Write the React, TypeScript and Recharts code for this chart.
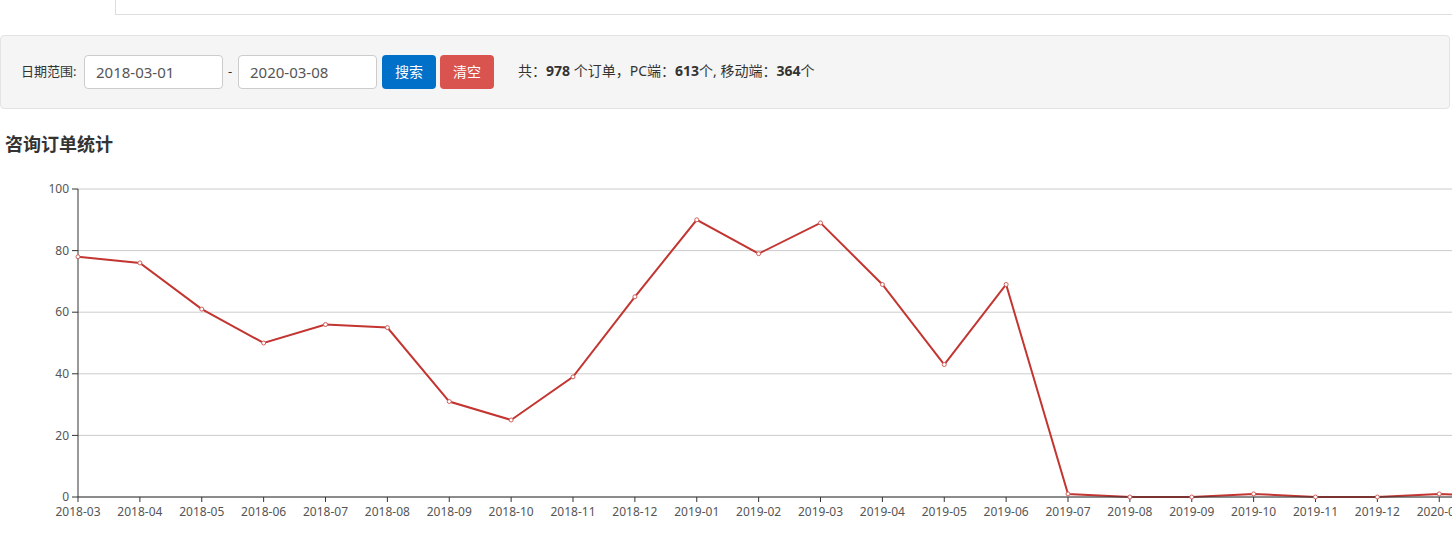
import React from "react";
import { LineChart, Line, XAxis, YAxis, CartesianGrid } from "recharts";

const months = [
  "2018-03", "2018-04", "2018-05", "2018-06", "2018-07", "2018-08", "2018-09",
  "2018-10", "2018-11", "2018-12", "2019-01", "2019-02", "2019-03", "2019-04",
  "2019-05", "2019-06", "2019-07", "2019-08", "2019-09", "2019-10", "2019-11",
  "2019-12", "2020-01", "2020-02", "2020-03",
];
const orders = [78, 76, 61, 50, 56, 55, 31, 25, 39, 65, 90, 79, 89, 69, 43, 69, 1, 0, 0, 1, 0, 0, 1, 0, 0];
const yTicks = [0, 20, 40, 60, 80, 100];

const startDate = "2018-03-01";
const endDate = "2020-03-08";
const totalOrders = 978;
const pcOrders = 613;
const mobileOrders = 364;

const data = months.map((m, i) => ({ month: m, orders: orders[i] }));

const FONT = "'Noto Sans', 'Noto Sans CJK SC', sans-serif";

const inputStyle: React.CSSProperties = {
  position: "absolute",
  top: 55,
  width: 139,
  height: 34,
  boxSizing: "border-box",
  border: "1px solid #ccc",
  borderRadius: 4,
  background: "#fff",
  fontSize: 15,
  color: "#555",
  lineHeight: "32px",
  paddingLeft: 11,
};

const btnStyle: React.CSSProperties = {
  position: "absolute",
  top: 55,
  width: 54,
  height: 34,
  boxSizing: "border-box",
  borderRadius: 4,
  color: "#fff",
  fontSize: 14,
  lineHeight: "34px",
  textAlign: "center",
};

export default function App() {
  return (
    <div
      style={{
        position: "fixed",
        left: 0,
        top: 0,
        width: 1452,
        height: 548,
        overflow: "hidden",
        background: "#fff",
        fontFamily: FONT,
        color: "#333",
      }}
    >
      {/* tab strip */}
      <div style={{ position: "absolute", left: 115, top: 0, width: 1, height: 15, background: "#ddd" }} />
      <div style={{ position: "absolute", left: 115, top: 14, width: 1337, height: 1, background: "#ddd" }} />

      {/* search panel */}
      <div
        style={{
          position: "absolute",
          left: 0,
          top: 35,
          width: 1450,
          height: 74,
          boxSizing: "border-box",
          background: "#f5f5f5",
          border: "1px solid #e3e3e3",
          borderRadius: 4,
        }}
      />
      <div style={{ position: "absolute", left: 21, top: 62, fontSize: 13, lineHeight: "18px", color: "#333" }}>
        日期范围:
      </div>
      <div style={{ ...inputStyle, left: 84 }}>{startDate}</div>
      <div style={{ position: "absolute", left: 228, top: 62, fontSize: 13, lineHeight: "18px" }}>-</div>
      <div style={{ ...inputStyle, left: 238 }}>{endDate}</div>
      <div style={{ ...btnStyle, left: 382, background: "#0070c9" }}>搜索</div>
      <div style={{ ...btnStyle, left: 440, background: "#d9534f" }}>清空</div>
      <div style={{ position: "absolute", left: 518, top: 61, fontSize: 14, lineHeight: "20px", color: "#333", whiteSpace: "nowrap" }}>
        共：<b>{totalOrders}</b> 个订单，PC端：<b>{pcOrders}</b>个, 移动端：<b>{mobileOrders}</b>个
      </div>

      {/* title */}
      <div style={{ position: "absolute", left: 5, top: 132, fontSize: 18, fontWeight: "bold", lineHeight: "24px", color: "#333" }}>
        咨询订单统计
      </div>

      {/* chart */}
      <div style={{ position: "absolute", left: 0, top: 174 }}>
        <LineChart
          width={1603}
          height={358}
          data={data}
          margin={{ top: 15, right: 40, bottom: 5, left: 0 }}
        >
          <CartesianGrid vertical={false} stroke="#ccc" strokeDasharray="" />
          <XAxis
            dataKey="month"
            interval={0}
            height={30}
            tickSize={5}
            tickMargin={5}
            axisLine={{ stroke: "#333" }}
            tickLine={{ stroke: "#333" }}
            tick={{ fill: "#555", fontSize: 12, fontFamily: FONT }}
          />
          <YAxis
            width={78}
            domain={[0, 100]}
            ticks={yTicks}
            tickSize={6}
            tickMargin={3}
            axisLine={{ stroke: "#333" }}
            tickLine={{ stroke: "#333" }}
            tick={{ fill: "#555", fontSize: 12, fontFamily: FONT }}
          />
          <Line
            type="linear"
            dataKey="orders"
            stroke="#c23531"
            strokeWidth={2}
            dot={{ r: 2, fill: "#fff", stroke: "#d0605c", strokeWidth: 1 }}
            activeDot={false}
            isAnimationActive={false}
          />
        </LineChart>
      </div>
    </div>
  );
}
